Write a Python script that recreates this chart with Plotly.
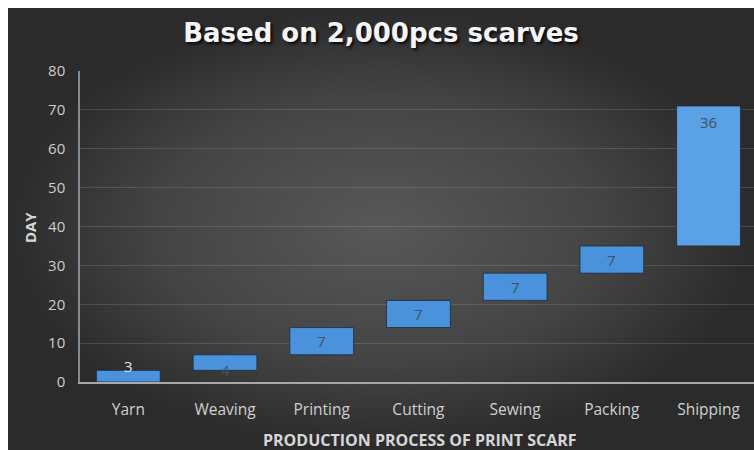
import plotly.graph_objects as go

# Production timeline for a 2,000-piece scarf order (days per stage)
stages = ["Yarn", "Weaving", "Printing", "Cutting", "Sewing", "Packing", "Shipping"]
days = [3, 4, 7, 7, 7, 7, 36]
y_ticks = [0, 10, 20, 30, 40, 50, 60, 70, 80]

# Cumulative start of each stage (waterfall bases)
bases = []
running = 0
for d in days:
    bases.append(running)
    running += d

bar_colors = ["#4a92db"] * (len(stages) - 1) + ["#5aa2e4"]

# Label placement per stage: (fraction of bar height, pixel shift, yanchor, colour)
label_style = {
    "Yarn": (1.0, 4, "middle", "#e2e2e2"),
    "Weaving": (0.0, 0, "middle", "#3e5368"),
    "Shipping": (1.0, -4, "top", "#3e5368"),
}
default_style = (0.5, 0, "middle", "#3e5368")

fig = go.Figure()

# Dark vignette backdrop behind the chart
fig.add_trace(go.Scatter(
    x=[0, 1, 1, 0, 0], y=[0, 0, 1, 1, 0],
    mode="lines", fill="toself", line=dict(width=0),
    fillgradient=dict(type="radial",
                      colorscale=[[0, "#585858"], [0.6, "#444444"], [1, "#2b2b2b"]]),
    hoverinfo="skip", showlegend=False, xaxis="x", yaxis="y",
))

fig.add_trace(go.Bar(
    x=stages, y=days, base=bases,
    marker=dict(color=bar_colors, line=dict(color="rgba(30,45,70,0.85)", width=1)),
    width=0.66, showlegend=False, xaxis="x2", yaxis="y2",
    hovertemplate="%{x}: %{y} days<extra></extra>",
))

annotations = []
for st, d, b in zip(stages, days, bases):
    frac, shift, yanchor, col = label_style.get(st, default_style)
    annotations.append(dict(
        x=st, y=b + d * frac, xref="x2", yref="y2", text=str(d),
        showarrow=False, yanchor=yanchor, yshift=shift,
        font=dict(family="Open Sans", size=15, color=col),
    ))

annotations.append(dict(
    text="<b>DAY</b>", x=0.0295, y=0.502, xref="paper", yref="paper",
    textangle=-90, showarrow=False, xanchor="center", yanchor="middle",
    font=dict(family="Open Sans", size=15, color="#d6d6d6"),
))
annotations.append(dict(
    text="<b>PRODUCTION PROCESS OF PRINT SCARF</b>", x=0.552, y=0.0226,
    xref="paper", yref="paper", showarrow=False, xanchor="center", yanchor="middle",
    font=dict(family="Open Sans", size=16, color="#d6d6d6"),
))

# White frame strips along the top and left edges
frame = [
    dict(type="rect", xref="paper", yref="paper", x0=-0.02, x1=0, y0=-0.05, y1=1.05,
         fillcolor="white", line=dict(width=0), layer="below"),
    dict(type="rect", xref="paper", yref="paper", x0=-0.02, x1=1.02, y0=1, y1=1.05,
         fillcolor="white", line=dict(width=0), layer="below"),
]

fig.update_layout(
    width=754, height=450,
    margin=dict(l=8, r=0, t=8, b=0, autoexpand=False),
    paper_bgcolor="#2b2b2b",
    plot_bgcolor="rgba(0,0,0,0)",
    shapes=frame,
    title=dict(
        text="<b>Based on 2,000pcs scarves</b>",
        x=0.5, xref="paper", xanchor="center",
        y=1 - 33 / 450, yref="container", yanchor="middle",
        font=dict(family="DejaVu Sans", size=26, color="#f4f4f4",
                  shadow="2px 2px 3px rgba(0,0,0,0.85)"),
    ),
    xaxis=dict(domain=[0, 1], range=[0, 1], visible=False, fixedrange=True,
               automargin=False),
    yaxis=dict(domain=[0, 1], range=[0, 1], visible=False, fixedrange=True,
               automargin=False),
    xaxis2=dict(
        domain=[0.0965, 1], range=[-0.5, 6.47], anchor="y2", automargin=False,
        showgrid=False, showline=True, linecolor="#a8a8a8", linewidth=2,
        tickfont=dict(family="Open Sans", size=15.5, color="#d0d0d0"),
        ticks="", ticklabelstandoff=12,
    ),
    yaxis2=dict(
        domain=[0.1538, 0.8575], range=[0, 80], anchor="x2", automargin=False,
        tickvals=y_ticks,
        showgrid=True, gridcolor="rgba(255,255,255,0.13)", gridwidth=1,
        showline=True, linecolor="#8a8a8a", linewidth=1.5,
        zeroline=False,
        tickfont=dict(family="Open Sans", size=15, color="#cccccc"),
        ticks="", ticklabelstandoff=10,
    ),
    annotations=annotations,
    bargap=0.34,
)

fig.write_html("out.html")
